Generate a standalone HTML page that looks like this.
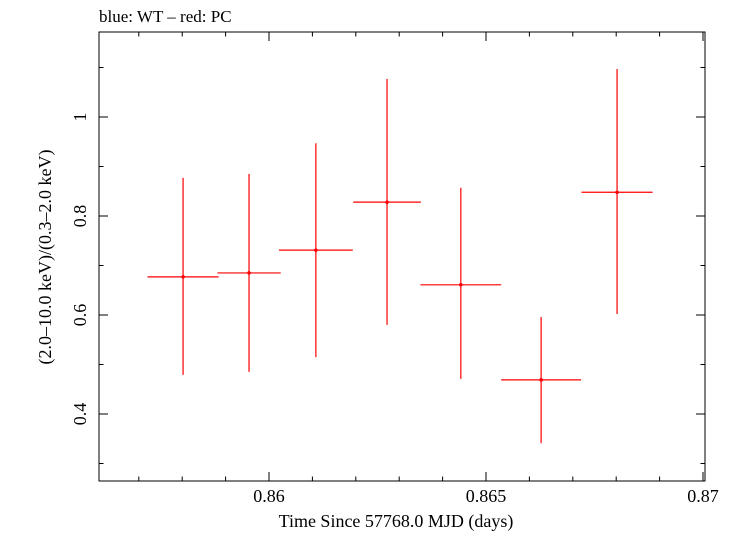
<!DOCTYPE html>
<html><head><meta charset="utf-8"><style>
body{margin:0;background:#fff}
svg text{font-family:"Liberation Serif",serif;fill:#000}
</style></head><body>
<svg id="chart" width="731" height="532" xmlns="http://www.w3.org/2000/svg">
<text x="99" y="22" font-size="17">blue: WT – red: PC</text>
<rect x="99" y="32" width="606" height="449" fill="none" stroke="#000" stroke-width="1"/>
<g id="ticks"></g>
<g id="marks"></g>
<text x="396" y="527" font-size="18" text-anchor="middle">Time Since 57768.0 MJD (days)</text>
<text transform="translate(51,257) rotate(-90)" font-size="18" text-anchor="middle">(2.0–10.0 keV)/(0.3–2.0 keV)</text>
</svg>
<script>
const times=[0.85802,0.85954,0.86108,0.86272,0.86442,0.86627,0.86802];
const timeErr=[0.00082,0.00073,0.00085,0.00078,0.00093,0.00092,0.00082];
const ratios=[0.677,0.685,0.731,0.828,0.661,0.469,0.848];
const ratioHi=[0.877,0.885,0.947,1.077,0.857,0.596,1.097];
const ratioLo=[0.479,0.485,0.515,0.580,0.471,0.341,0.602];
const xTicks=[0.86,0.865,0.87];
const xTickLabels=["0.86","0.865","0.87"];
const yTicks=[0.4,0.6,0.8,1.0];
const yTickLabels=["0.4","0.6","0.8","1"];
const NS="http://www.w3.org/2000/svg";
const L=99,R=705,T=32,B=481;
function xs(v){return 269+(v-0.86)*43400;}
function ys(v){return 117+(1-v)*495;}
function mk(tag,attrs,parent){const e=document.createElementNS(NS,tag);for(const k in attrs)e.setAttribute(k,attrs[k]);parent.appendChild(e);return e;}
const tg=document.getElementById('ticks');
for(let i=0;i<=17;i++){const v=0.856+i*0.001;const x=xs(v);if(x<L||x>R)continue;
 const maj=Math.abs(v*200-Math.round(v*200))<1e-6;const len=maj?9:4.5;
 const t1=mk('line',{x1:x,x2:x,y1:B,y2:B-len,stroke:'#000'},tg);
 
 
 const t2=mk('line',{x1:x,x2:x,y1:T,y2:T+len,stroke:'#000'},tg);
 
 }
xTicks.forEach((v,i)=>{const t=mk('text',{x:xs(v),y:502,'font-size':18,'text-anchor':'middle'},tg);t.textContent=xTickLabels[i];
 
 });
for(let i=2;i<=11;i++){const v=i*0.1;const y=ys(v);if(y<T||y>B)continue;
 const maj=i%2==0;const len=maj?9:4.5;
 const t1=mk('line',{x1:L,x2:L+len,y1:y,y2:y,stroke:'#000'},tg);
 
 
 const t2=mk('line',{x1:R,x2:R-len,y1:y,y2:y,stroke:'#000'},tg);
 
 }
yTicks.forEach((v,i)=>{const t=mk('text',{transform:`translate(86,${ys(v)}) rotate(-90)`,'font-size':18,'text-anchor':'middle'},tg);t.textContent=yTickLabels[i];
 
 });
const mg=document.getElementById('marks');
times.forEach((t,i)=>{const g=mk('g',{},mg);
 
 
 mk('line',{x1:xs(t-timeErr[i]),x2:xs(t+timeErr[i]),y1:ys(ratios[i]),y2:ys(ratios[i]),stroke:'#f00','stroke-width':1.2},g);
 mk('line',{x1:xs(t),x2:xs(t),y1:ys(ratioHi[i]),y2:ys(ratioLo[i]),stroke:'#f00','stroke-width':1.2},g);
 mk('circle',{cx:xs(t),cy:ys(ratios[i]),r:1.8,fill:'#f00'},g);});
</script>
</body></html>
